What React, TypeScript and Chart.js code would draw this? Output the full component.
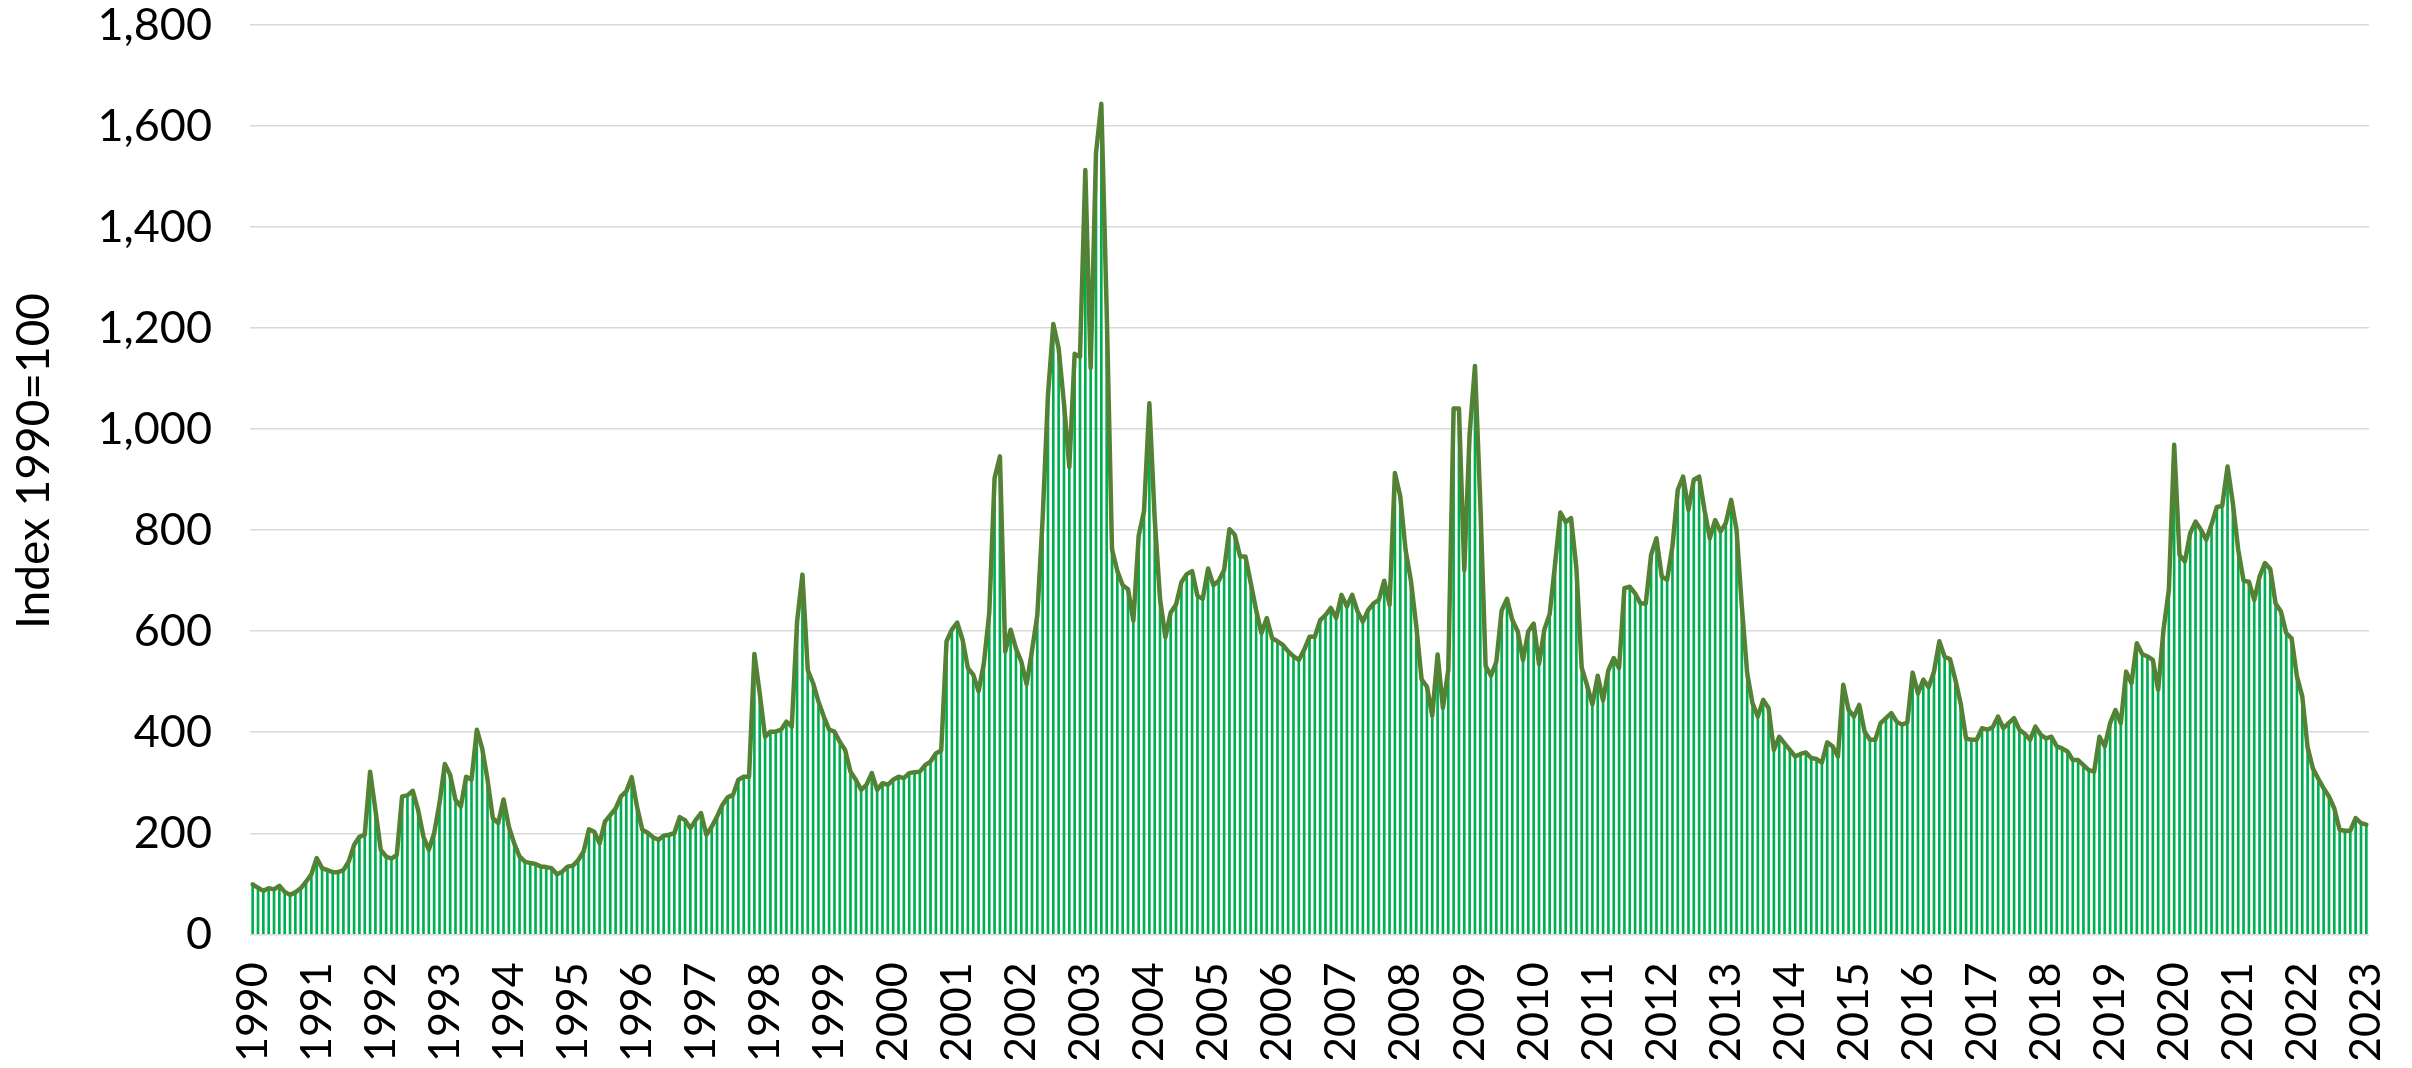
import React, { useEffect, useRef } from 'react';
import { Chart, registerables } from 'chart.js';

Chart.register(...registerables);

// Tick labels shown on the x axis (one per January)
const yearLabels: string[] = [
  '1990', '1991', '1992', '1993', '1994', '1995', '1996', '1997', '1998', '1999',
  '2000', '2001', '2002', '2003', '2004', '2005', '2006', '2007', '2008', '2009',
  '2010', '2011', '2012', '2013', '2014', '2015', '2016', '2017', '2018', '2019',
  '2020', '2021', '2022', '2023',
];

// Y axis ticks
const yTicks: number[] = [0, 200, 400, 600, 800, 1000, 1200, 1400, 1600, 1800];

const yAxisTitle = 'Index 1990=100';

// Monthly index values, Jan 1990 .. Jan 2023 (1990 = 100)
const index1990: number[] = [
  // 1990
  99, 92, 86, 91, 89, 96, 84, 78, 83, 91, 104, 119,
  // 1991
  151, 131, 127, 123, 123, 127, 144, 177, 193, 197, 322, 246,
  // 1992
  167, 154, 150, 157, 273, 275, 284, 246, 193, 167, 200, 259,
  // 1993
  337, 316, 266, 253, 312, 306, 405, 368, 306, 230, 220, 267,
  // 1994
  213, 180, 154, 144, 141, 139, 134, 133, 131, 119, 124, 134,
  // 1995
  136, 147, 164, 208, 203, 180, 223, 236, 249, 273, 283, 311,
  // 1996
  253, 207, 201, 192, 187, 195, 197, 200, 232, 226, 210, 226,
  // 1997
  240, 197, 213, 233, 256, 271, 276, 306, 312, 312, 555, 477,
  // 1998
  391, 401, 401, 405, 421, 411, 619, 712, 523, 497, 461, 431,
  // 1999
  405, 401, 381, 365, 322, 306, 286, 296, 319, 286, 299, 296,
  // 2000
  306, 312, 309, 319, 321, 322, 335, 342, 358, 364, 580, 603,
  // 2001
  617, 583, 527, 514, 481, 537, 636, 903, 946, 560, 603, 566,
  // 2002
  540, 495, 561, 631, 822, 1067, 1208, 1160, 1051, 925, 1149, 1143,
  // 2003
  1513, 1121, 1546, 1644, 1236, 762, 719, 691, 683, 621, 789, 838,
  // 2004
  1051, 822, 664, 588, 637, 653, 697, 713, 719, 670, 664, 724,
  // 2005
  691, 700, 721, 802, 791, 748, 748, 695, 642, 596, 626, 586,
  // 2006
  580, 573, 560, 550, 543, 563, 589, 589, 622, 632, 646, 626,
  // 2007
  672, 649, 672, 639, 619, 642, 655, 662, 700, 652, 913, 867,
  // 2008
  761, 700, 611, 505, 490, 433, 554, 448, 524, 1041, 1041, 721,
  // 2009
  990, 1125, 854, 531, 512, 539, 641, 664, 622, 600, 543, 600,
  // 2010
  615, 535, 603, 634, 732, 835, 816, 824, 725, 528, 493, 455,
  // 2011
  512, 463, 523, 547, 527, 685, 688, 675, 655, 655, 751, 784,
  // 2012
  708, 702, 768, 880, 906, 840, 900, 906, 840, 784, 820, 797,
  // 2013
  814, 860, 801, 649, 517, 457, 431, 464, 448, 365, 391, 378,
  // 2014
  365, 352, 357, 360, 349, 347, 340, 380, 372, 352, 494, 444,
  // 2015
  431, 454, 401, 385, 385, 418, 428, 438, 421, 415, 419, 518,
  // 2016
  477, 504, 489, 520, 580, 549, 545, 504, 457, 388, 385, 385,
  // 2017
  408, 405, 410, 431, 408, 418, 428, 405, 397, 385, 411, 395,
  // 2018
  388, 391, 372, 368, 362, 345, 345, 335, 325, 322, 391, 372,
  // 2019
  418, 444, 418, 520, 497, 576, 555, 550, 543, 484, 603, 682,
  // 2020
  969, 751, 738, 794, 817, 801, 781, 811, 846, 848, 926, 853,
  // 2021
  761, 700, 698, 662, 708, 735, 723, 655, 639, 596, 586, 510,
  // 2022
  471, 370, 328, 308, 289, 273, 249, 207, 205, 205, 230, 220,
  // 2023
  217,
];

const monthLabels: string[] = index1990.map((_, i) => (i % 12 === 0 ? yearLabels[i / 12] : ''));

const FONT = 'Lato, "Noto Sans", sans-serif';

const zeroScalePadding = (s: any) => {
  s.paddingTop = 0;
  s.paddingBottom = 0;
  s.paddingLeft = 0;
  s.paddingRight = 0;
};

// Draws the rotated y-axis title slightly above the plot's vertical centre, as in the reference
const yTitlePlugin = {
  id: 'yTitlePlugin',
  afterDraw(chart: any) {
    const ctx = chart.ctx as CanvasRenderingContext2D;
    ctx.save();
    ctx.translate(34, 461);
    ctx.rotate(-Math.PI / 2);
    ctx.font = `46px ${FONT}`;
    ctx.fillStyle = '#000000';
    ctx.textAlign = 'center';
    ctx.textBaseline = 'middle';
    ctx.fillText(yAxisTitle, 0, 0);
    ctx.restore();
  },
};

export default function App() {
  const canvasRef = useRef<HTMLCanvasElement | null>(null);

  useEffect(() => {
    const canvas = canvasRef.current;
    if (!canvas) return;
    const chart = new Chart(canvas, {
      type: 'bar',
      data: {
        labels: monthLabels,
        datasets: [
          {
            type: 'bar',
            data: index1990,
            backgroundColor: '#00B050',
            borderWidth: 0,
            barThickness: 2,
            order: 1,
          } as any,
          {
            type: 'line',
            data: index1990,
            borderColor: '#548235',
            borderWidth: 4.5,
            pointRadius: 0,
            tension: 0,
            fill: false,
            borderJoinStyle: 'round',
            borderCapStyle: 'round',
            order: 0,
          } as any,
        ],
      },
      plugins: [yTitlePlugin],
      options: {
        responsive: false,
        maintainAspectRatio: false,
        animation: false,
        devicePixelRatio: 1,
        layout: { padding: { left: 0, right: 43, top: 25, bottom: 0 } },
        plugins: {
          legend: { display: false },
          tooltip: { enabled: false },
        },
        scales: {
          x: {
            grid: { display: false, drawTicks: false },
            border: { display: false },
            ticks: {
              autoSkip: false,
              maxRotation: 90,
              minRotation: 90,
              padding: 28,
              color: '#000000',
              font: { family: FONT, size: 43 },
            },
            afterFit: (s: any) => {
              s.height = 133.7;
              zeroScalePadding(s);
            },
          },
          y: {
            min: 0,
            max: 1800,
            afterBuildTicks: (s: any) => {
              s.ticks = yTicks.map((v) => ({ value: v }));
            },
            ticks: {
              padding: 38,
              color: '#000000',
              font: { family: FONT, size: 45 },
              callback: (v: any) => Number(v).toLocaleString('en-US'),
            },
            grid: { color: '#D9D9D9', lineWidth: 1.5, drawTicks: false },
            border: { display: false },
            title: { display: false, text: yAxisTitle },
            afterFit: (s: any) => {
              s.width = 250;
              zeroScalePadding(s);
            },
          },
        },
      } as any,
    });
    return () => chart.destroy();
  }, []);

  return (
    <div style={{ position: 'fixed', left: 0, top: 0, width: 2412, height: 1068, background: '#ffffff' }}>
      <canvas ref={canvasRef} width={2412} height={1068} style={{ width: 2412, height: 1068, display: 'block' }} />
    </div>
  );
}
